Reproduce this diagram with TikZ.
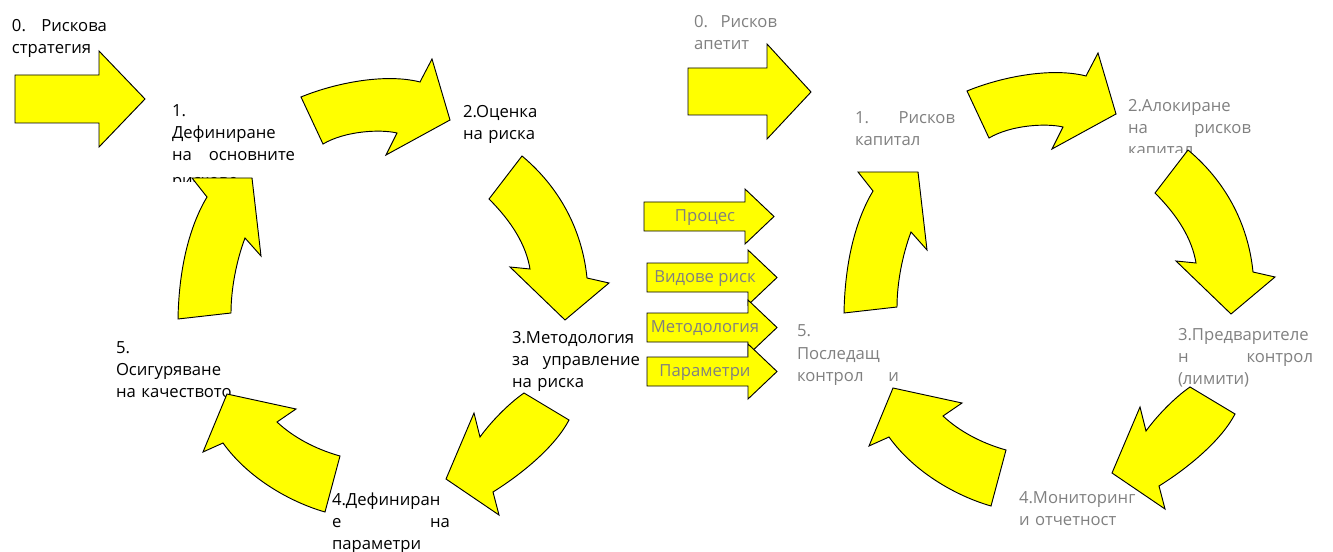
\documentclass[tikz,border=0pt]{standalone}
\usepackage{fontspec}
\setmainfont{Open Sans}
\definecolor{arrowyellow}{RGB}{255,255,0}
\definecolor{labelgray}{RGB}{128,128,128}
\tikzset{
  yarrow/.style={draw=black, fill=arrowyellow, line width=0.7pt, line join=miter},
  lbl/.style={anchor=base west, inner sep=0pt, outer sep=0pt, font=\fontsize{12.5}{16.5}\selectfont, align=left},
  blk/.style={lbl, text=black},
  gry/.style={lbl, text=labelgray},
  arrowtag/.style={anchor=base, inner sep=0pt, outer sep=0pt, font=\fontsize{12.5}{15}\selectfont, text=labelgray}
}
\newcommand\cyclearrows{%
  \draw[yarrow] (301,97) .. controls (335,83) and (385,73) .. (420,82) -- (432,59) -- (450,120) -- (386,155) -- (397,133) .. controls (380,129) and (345,131) .. (323,144) -- cycle;
  \draw[yarrow] (522,156) .. controls (558,186) and (582,228) .. (587,278) -- (609,283) -- (565,320) -- (510,267) -- (530,269) .. controls (526,245) and (512,222) .. (489,199) -- cycle;
  \draw[yarrow] (524,393) -- (569,420) .. controls (556,445) and (525,472) .. (493,492) -- (499,515) -- (446,479) -- (474,413) -- (480,437) .. controls (490,423) and (508,404) .. (524,393) -- cycle;
  \draw[yarrow] (340,456) -- (325,512) .. controls (290,502) and (248,478) .. (223,443) -- (203,452) -- (227,394) -- (296,409) -- (277,422) .. controls (293,437) and (315,449) .. (340,456) -- cycle;
  \draw[yarrow] (178,319) -- (231,313) .. controls (231,290) and (236,262) .. (245,238) -- (261,256) -- (252,178) -- (192,178) -- (207,197) .. controls (192,222) and (179,262) .. (178,319) -- cycle;
}
\newcommand\smallarrow[4]{%
  \draw[yarrow] (#1,#2-14.5) -- (#3-29,#2-14.5) -- (#3-29,#2-27.5) -- (#3,#2) -- (#3-29,#2+27.5) -- (#3-29,#2+14.5) -- (#1,#2+14.5) -- cycle;
  \node[arrowtag] (#4) at (705,#2+5) {\csname txt#4\endcsname};
}
\newcommand\txtsa{Процес}
\newcommand\txtsb{Видове риск}
\newcommand\txtsc{Методология}
\newcommand\txtsd{Параметри}
\begin{document}
\begin{tikzpicture}[x=0.75pt,y=-0.75pt]
\useasboundingbox (0,0) rectangle (1333,552);
% left cycle texts
\node[blk, text width=71.25pt] (l0) at (12,32) {0.\hfill Рискова\\стратегия};
\begin{scope}
  \clip (165,95) rectangle (310,182);
  \node[blk, text width=92.25pt] (l1) at (172,117) {1.\\Дефиниране\\на\hfill основните\\[2.5pt]рискове};
\end{scope}
\node[blk, text width=100pt] (l2) at (463,118) {2.Оценка\\на риска};
\node[blk, text width=96pt] (l3) at (512,343) {3.Методология\\за\hfill управление\\на риска};
\node[blk, text width=88.5pt] (l4) at (332,505) {4.Дефиниран\\е\hfill на\\параметри};
\node[blk, text width=100pt] (l5) at (116,353) {5.\\Осигуряване\\на качеството};
% right cycle texts
\node[gry, text width=62.25pt] (r0) at (694,28) {0.\hfill Рисков\\апетит};
\node[gry, text width=75pt] (r1) at (855,124) {1.\hfill Рисков\\капитал};
\begin{scope}
  \clip (1120,95) rectangle (1270,153);
  \node[gry, text width=92.25pt] (r2) at (1128,112) {2.Алокиране\\на\hfill рисков\\капитал};
\end{scope}
\node[gry, text width=101.25pt] (r3) at (1178,340) {3.Предварителе\\н\hfill контрол\\(лимити)};
\node[gry, text width=100pt] (r4) at (1019,503) {4.Мониторинг\\и отчетност};
\node[gry, text width=76.5pt] (r5) at (797,336) {5.\\[1pt]Последащ\\контрол\hfill и};
% arrows
\draw[yarrow] (15,75) -- (99,75) -- (99,51) -- (145,99) -- (99,147) -- (99,123) -- (15,123) -- cycle;
\draw[yarrow] (688,68) -- (767,68) -- (767,44) -- (811,92) -- (767,139) -- (767,115) -- (688,115) -- cycle;
\cyclearrows
\begin{scope}[shift={(666,-6)}]
  \cyclearrows
\end{scope}
\smallarrow{644}{216.5}{774}{sa}
\smallarrow{647}{277.5}{777}{sb}
\smallarrow{647}{327.5}{777}{sc}
\smallarrow{647}{371.5}{777}{sd}
\end{tikzpicture}
\end{document}
